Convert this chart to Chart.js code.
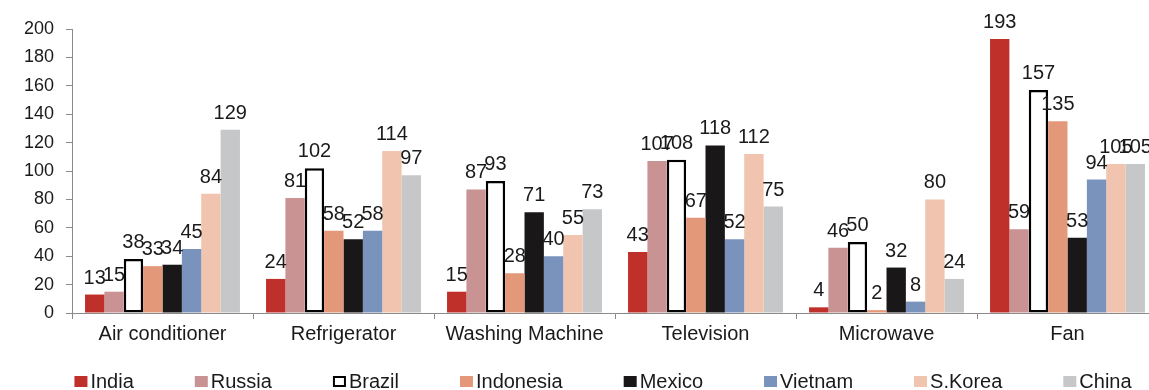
<!DOCTYPE html>
<html>
<head>
<meta charset="utf-8">
<script src="https://cdn.jsdelivr.net/npm/chart.js@4.4.1/dist/chart.umd.min.js"></script>
<style>
    html, body { margin: 0; padding: 0; background: #fff; overflow: hidden; }
    #wrap { width: 1160px; height: 390px; }
</style>
</head>
<body>
<div id="wrap"><canvas id="appliancesChart"></canvas></div>
<script>
const categories = ['Air conditioner', 'Refrigerator', 'Washing Machine', 'Television', 'Microwave', 'Fan'];
const countries = ['India', 'Russia', 'Brazil', 'Indonesia', 'Mexico', 'Vietnam', 'S.Korea', 'China'];

const india     = [13, 24, 15, 43, 4, 193];
const russia    = [15, 81, 87, 107, 46, 59];
const brazil    = [38, 102, 93, 108, 50, 157];
const indonesia = [33, 58, 28, 67, 2, 135];
const mexico    = [34, 52, 71, 118, 32, 53];
const vietnam   = [45, 58, 40, 52, 8, 94];
const skorea    = [84, 114, 55, 112, 80, 105];
const china     = [129, 97, 73, 75, 24, 105];

const yMin = 0, yMax = 200, yStep = 20;

const seriesValues = [india, russia, brazil, indonesia, mexico, vietnam, skorea, china];
const seriesColors = ['#c0302b', '#c99394', '#ffffff', '#e4987a', '#1a1718', '#7a93bd', '#f0c4af', '#c5c7c9'];

const FONT = '"Liberation Sans", Arial, sans-serif';
const TEXT_COLOR = '#1a1a1a';
const AXIS_COLOR = '#8a8a8a';

// value labels above every bar
const valueLabels = {
    id: 'valueLabels',
    afterDatasetsDraw(chart) {
        const ctx = chart.ctx;
        ctx.save();
        ctx.font = '20px ' + FONT;
        ctx.fillStyle = TEXT_COLOR;
        ctx.textAlign = 'center';
        ctx.textBaseline = 'alphabetic';
        chart.data.datasets.forEach((ds, i) => {
            chart.getDatasetMeta(i).data.forEach((bar, j) => {
                ctx.fillText(String(ds.data[j]), bar.x, bar.y - 11);
            });
        });
        ctx.restore();
    }
};

// legend row at the bottom, evenly gapped like the original
const bottomLegend = {
    id: 'bottomLegend',
    afterDraw(chart) {
        const ctx = chart.ctx;
        const boxW = 13, boxH = 11, gap = 3, spacing = 61;
        const centerX = 603, baseY = 388;
        ctx.save();
        ctx.font = '20px ' + FONT;
        ctx.textBaseline = 'alphabetic';
        ctx.textAlign = 'left';
        const widths = chart.data.datasets.map(ds => boxW + gap + ctx.measureText(ds.label).width);
        const total = widths.reduce((a, b) => a + b, 0) + spacing * (widths.length - 1);
        let x = centerX - total / 2;
        chart.data.datasets.forEach((ds, i) => {
            ctx.fillStyle = ds.backgroundColor;
            ctx.fillRect(x, baseY - boxH - 1, boxW, boxH);
            if (ds.borderWidth) {
                ctx.strokeStyle = ds.borderColor;
                ctx.lineWidth = 2;
                ctx.strokeRect(x + 1, baseY - boxH, boxW - 2, boxH - 2);
            }
            ctx.fillStyle = TEXT_COLOR;
            ctx.fillText(ds.label, x + boxW + gap, baseY);
            x += widths[i] + spacing;
        });
        ctx.restore();
    }
};

const datasets = countries.map((name, i) => ({
    label: name,
    data: seriesValues[i],
    backgroundColor: seriesColors[i],
    borderColor: name === 'Brazil' ? '#000000' : seriesColors[i],
    borderWidth: name === 'Brazil' ? 2.5 : 0,
    borderSkipped: false,
    categoryPercentage: 0.856,
    barPercentage: 1.0
}));

new Chart(document.getElementById('appliancesChart').getContext('2d'), {
    type: 'bar',
    data: { labels: categories, datasets: datasets },
    options: {
        responsive: true,
        maintainAspectRatio: false,
        animation: false,
        layout: { padding: { left: 0, right: 2, top: 29, bottom: 41 } },
        plugins: {
            legend: { display: false },
            tooltip: { enabled: false }
        },
        scales: {
            x: {
                grid: {
                    display: true,
                    drawOnChartArea: false,
                    drawTicks: true,
                    tickLength: 6,
                    color: AXIS_COLOR,
                    offset: true
                },
                border: { display: true, color: AXIS_COLOR, width: 1 },
                ticks: {
                    font: { size: 20, family: FONT },
                    color: TEXT_COLOR,
                    padding: 3,
                    maxRotation: 0,
                    autoSkip: false
                },
                afterFit(scale) { scale.height = 36; }
            },
            y: {
                min: yMin,
                max: yMax,
                grid: {
                    display: true,
                    drawOnChartArea: false,
                    drawTicks: true,
                    tickLength: 6,
                    color: AXIS_COLOR
                },
                border: { display: true, color: AXIS_COLOR, width: 1 },
                ticks: {
                    stepSize: yStep,
                    font: { size: 18, family: FONT },
                    color: TEXT_COLOR,
                    padding: 12
                },
                afterFit(scale) { scale.width = 72; }
            }
        }
    },
    plugins: [valueLabels, bottomLegend]
});
</script>
</body>
</html>
